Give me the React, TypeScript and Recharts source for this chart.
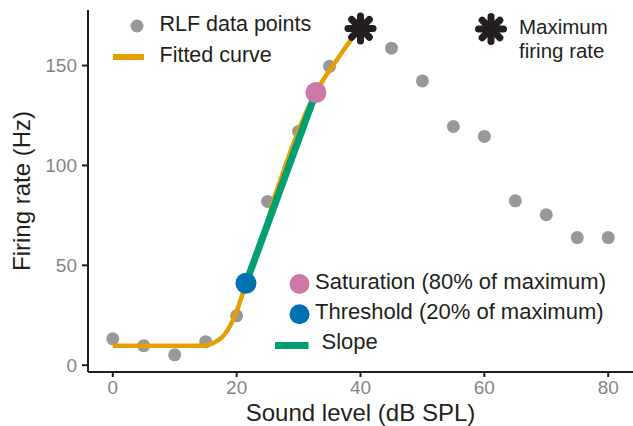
import React from 'react';
import { ComposedChart, XAxis, YAxis, Scatter, Line } from 'recharts';

// RLF measurements
const soundLevels = [0, 5, 10, 15, 20, 25, 30, 35, 40, 45, 50, 55, 60, 65, 70, 75, 80];
const firingRates = [13.2, 9.8, 5.2, 11.8, 24.7, 82, 117, 149.6, 168.6, 158.7, 142.3, 119.5, 114.5, 82.3, 75.3, 63.9, 63.9];

// fitted curve
const curveLevels = [0, 5, 10, 14, 15, 16, 17, 18, 19, 20, 21, 22, 23, 24, 25, 26, 27, 28, 29, 30, 31, 32, 33, 34, 35, 36, 37, 38, 39, 40];
const curveRates = [9.7, 9.7, 9.7, 9.8, 10.0, 10.8, 12.5, 15.2, 20, 27, 36, 45.5, 54.5, 63, 72, 83, 92, 101, 109.5, 117.5, 125, 131.5, 137.5, 143, 147.5, 152, 156.5, 161, 165, 168.6];

// threshold (20%) and saturation (80%)
const keyLevels = [21.5, 32.8];
const keyRates = [41, 136.5];

const maxLevel = [40];
const maxRate = [168.6];

const xTicks = [0, 20, 40, 60, 80];
const yTicks = [0, 50, 100, 150];

const GREY = '#98989b';
const ORANGE = '#E69F00';
const GREEN = '#009E73';
const PINK = '#CC79A7';
const BLUE = '#0072B2';
const INK = '#231f20';

const rlfData = soundLevels.map((x, i) => ({ x, y: firingRates[i] }));
const curveData = curveLevels.map((x, i) => ({ x, y: curveRates[i] }));
const slopeData = keyLevels.map((x, i) => ({ x, y: keyRates[i] }));
const thresholdData = [slopeData[0]];
const saturationData = [slopeData[1]];
const maxData = maxLevel.map((x, i) => ({ x, y: maxRate[i] }));

const Asterisk = ({ cx, cy }: { cx: number; cy: number }) => (
  <g transform={`translate(${cx},${cy})`} stroke={INK} strokeWidth={7} strokeLinecap="round">
    {[0, 45, 90, 135].map((a) => (
      <line key={a} x1={0} y1={-12.5} x2={0} y2={12.5} transform={`rotate(${a})`} />
    ))}
    <circle r={5} fill={INK} stroke="none" />
  </g>
);

const dot = (r: number, fill: string) => (props: any) =>
  <circle cx={props.cx} cy={props.cy} r={r} fill={fill} />;

const legendText = { fontSize: 21.5, fill: INK };
const maxText = { fontSize: 20.5, fill: INK };
const bottomText = { fontSize: 22, fill: INK };

export default function App() {
  return (
    <div
      style={{
        position: 'absolute',
        left: 0,
        top: 0,
        width: 633,
        height: 426,
        background: '#fff',
        fontFamily: '"Liberation Sans", Arial, sans-serif',
      }}
    >
      <ComposedChart width={633} height={426} margin={{ top: 10, right: 0, bottom: 0, left: 0 }}>
        <XAxis
          type="number"
          dataKey="x"
          domain={[-4, 84]}
          ticks={xTicks}
          allowDataOverflow
          height={54}
          tickSize={5}
          tickMargin={4}
          tick={{ fill: '#858585', fontSize: 19 }}
          axisLine={{ stroke: '#1f1f1f', strokeWidth: 2 }}
          tickLine={{ stroke: '#1f1f1f', strokeWidth: 2 }}
          label={{ value: 'Sound level (dB SPL)', position: 'insideBottom', offset: 5.5, fill: INK, fontSize: 24 }}
        />
        <YAxis
          type="number"
          dataKey="y"
          domain={[-3.4, 177.8]}
          ticks={yTicks}
          allowDataOverflow
          width={88}
          tickSize={6}
          tickMargin={5}
          tick={{ fill: '#858585', fontSize: 19 }}
          axisLine={{ stroke: '#1f1f1f', strokeWidth: 2 }}
          tickLine={{ stroke: '#1f1f1f', strokeWidth: 2 }}
          label={{
            value: 'Firing rate (Hz)',
            angle: -90,
            position: 'insideLeft',
            offset: 21,
            textAnchor: 'middle',
            fill: INK,
            fontSize: 24,
          }}
        />
        <Scatter data={rlfData} shape={dot(6.5, GREY)} isAnimationActive={false} zIndex={300} />
        <Line
          data={curveData}
          dataKey="y"
          type="monotone"
          stroke={ORANGE}
          strokeWidth={4.5}
          dot={false}
          activeDot={false}
          isAnimationActive={false}
          zIndex={400}
        />
        <Line
          data={slopeData}
          dataKey="y"
          type="linear"
          stroke={GREEN}
          strokeWidth={7}
          dot={false}
          activeDot={false}
          isAnimationActive={false}
          zIndex={450}
        />
        <Scatter data={thresholdData} shape={dot(10.5, BLUE)} isAnimationActive={false} zIndex={600} />
        <Scatter data={saturationData} shape={dot(10.5, PINK)} isAnimationActive={false} zIndex={600} />
        <Scatter
          data={maxData}
          shape={(p: any) => <Asterisk cx={p.cx} cy={p.cy} />}
          isAnimationActive={false}
          zIndex={700}
        />
      </ComposedChart>
      <svg
        width={633}
        height={426}
        style={{ position: 'absolute', left: 0, top: 0, pointerEvents: 'none' }}
      >
        {/* top-left legend */}
        <circle cx={137} cy={26} r={6.5} fill={GREY} />
        <text x={159.5} y={31} {...legendText}>RLF data points</text>
        <line x1={113} y1={57} x2={144} y2={57} stroke={ORANGE} strokeWidth={6} />
        <text x={159.5} y={62} {...legendText}>Fitted curve</text>

        {/* top-right legend */}
        <Asterisk cx={491} cy={29} />
        <text x={519} y={34} {...maxText}>Maximum</text>
        <text x={519} y={57.5} {...maxText}>firing rate</text>

        {/* bottom legend */}
        <circle cx={299.5} cy={284} r={10} fill={PINK} />
        <text x={315} y={288.5} {...bottomText}>Saturation (80% of maximum)</text>
        <circle cx={299.5} cy={314.3} r={10} fill={BLUE} />
        <text x={315} y={318.5} {...bottomText}>Threshold (20% of maximum)</text>
        <line x1={275} y1={345.5} x2={308.5} y2={345.5} stroke={GREEN} strokeWidth={7} />
        <text x={321.5} y={348.5} {...bottomText}>Slope</text>
      </svg>
    </div>
  );
}
